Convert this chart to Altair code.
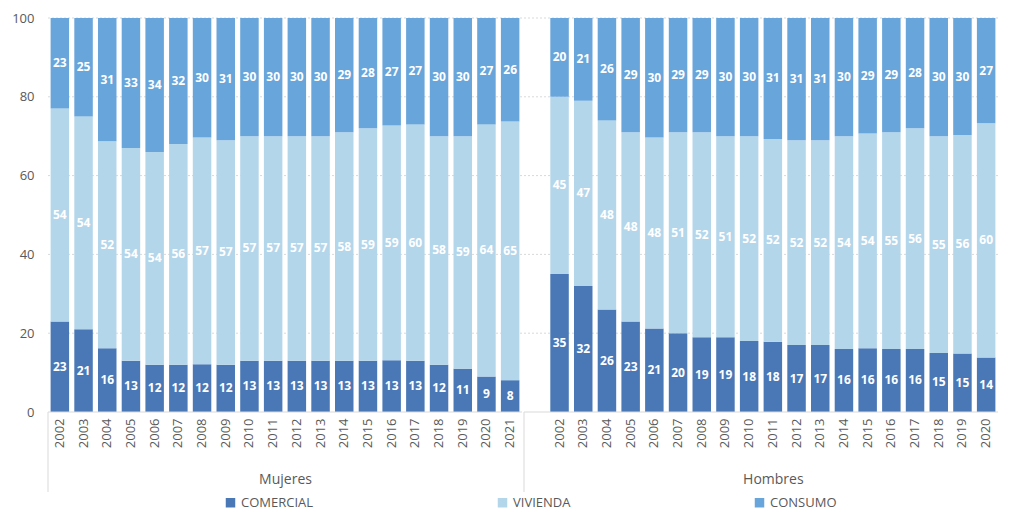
import altair as alt
import pandas as pd

years = [str(y) for y in range(2002, 2022)]
categories = ["COMERCIAL", "VIVIENDA", "CONSUMO"]
groups = ["Mujeres", "Hombres"]
y_ticks = [0, 20, 40, 60, 80, 100]

mujeres_comercial = [23, 21, 16, 13, 12, 12, 12, 12, 13, 13, 13, 13, 13, 13, 13, 13, 12, 11, 9, 8]
mujeres_vivienda = [54, 54, 52, 54, 54, 56, 57, 57, 57, 57, 57, 57, 58, 59, 59, 60, 58, 59, 64, 65]
mujeres_consumo = [23, 25, 31, 33, 34, 32, 30, 31, 30, 30, 30, 30, 29, 28, 27, 27, 30, 30, 27, 26]
hombres_comercial = [35, 32, 26, 23, 21, 20, 19, 19, 18, 18, 17, 17, 16, 16, 16, 16, 15, 15, 14, 13]
hombres_vivienda = [45, 47, 48, 48, 48, 51, 52, 51, 52, 52, 52, 52, 54, 54, 55, 56, 55, 56, 60, 61]
hombres_consumo = [20, 21, 26, 29, 30, 29, 29, 30, 30, 31, 31, 31, 30, 29, 29, 28, 30, 30, 27, 26]

colors = ["#4a78b7", "#b4d6eb", "#68a5da"]
grey = "#595959"
light = "#d9d9d9"
FONT = "Open Sans"

series = {
    "Mujeres": [mujeres_comercial, mujeres_vivienda, mujeres_consumo],
    "Hombres": [hombres_comercial, hombres_vivienda, hombres_consumo],
}
rows = []
for g in groups:
    for ci, cat in enumerate(categories):
        for yi, yr in enumerate(years):
            rows.append({"group": g, "year": yr, "cat": cat, "order": ci,
                         "value": series[g][ci][yi]})
df = pd.DataFrame(rows)

H = 394
STEP = 23.7


def panel(g, domain, first, title_span):
    sub = df[df.group == g]
    width = STEP * len(domain)
    base = (
        alt.Chart(sub)
        .transform_filter(alt.FieldOneOfPredicate(field="year", oneOf=domain))
        .transform_joinaggregate(total="sum(value)", groupby=["year"])
        .transform_calculate(pct="datum.value / datum.total * 100")
        .transform_stack(stack="pct", groupby=["year"], as_=["y0", "y1"],
                         sort=[alt.SortField("order", order="ascending")])
        .transform_calculate(mid="(datum.y0 + datum.y1) / 2")
    )
    xscale = alt.Scale(domain=domain, paddingInner=0.22, paddingOuter=0.11)
    yscale = alt.Scale(domain=[0, 100])
    xaxis = alt.Axis(title=g, titleFontSize=14, titleColor=grey, titleFontWeight="normal",
                     titleFont=FONT, titlePadding=25, titleX=STEP * title_span / 2,
                     labelAngle=-90, labelFontSize=13, labelColor=grey, labelFont=FONT,
                     labelPadding=6, ticks=False, domain=False, grid=False)
    yaxis = alt.Axis(values=y_ticks, title=None, domain=False, ticks=False,
                     labels=first, labelFontSize=13, labelColor=grey, labelFont=FONT,
                     labelPadding=14, grid=False)
    one = pd.DataFrame({"k": [0]})
    grid = alt.Chart(pd.DataFrame({"v": y_ticks[1:]})).mark_rule(
        color=light, strokeDash=[2, 2]
    ).encode(y=alt.Y("v:Q", scale=yscale, axis=yaxis), x=alt.value(0), x2=alt.value(width))
    bars = base.mark_bar().encode(
        x=alt.X("year:N", scale=xscale, axis=xaxis, sort=domain),
        y=alt.Y("y0:Q", scale=yscale, axis=yaxis),
        y2="y1:Q",
        color=alt.Color("cat:N", scale=alt.Scale(domain=categories, range=colors),
                        legend=alt.Legend(orient="none", legendX=176, legendY=478,
                                          direction="horizontal", title=None,
                                          symbolType="square", symbolSize=90,
                                          symbolStrokeWidth=0, labelFontSize=13,
                                          labelColor=grey, labelFont=FONT,
                                          columnPadding=182, labelOffset=4)),
    )
    text = base.mark_text(color="white", fontWeight="bold", fontSize=12, font=FONT).encode(
        x=alt.X("year:N", scale=xscale, axis=xaxis, sort=domain),
        y=alt.Y("mid:Q", scale=yscale, axis=yaxis),
        text=alt.Text("value:Q"),
    )
    sep = alt.Chart(one).mark_rule(color=light).encode(
        x=alt.value(0), y=alt.value(H), y2=alt.value(H + 80)
    )
    baseline = alt.Chart(one).mark_rule(color=light).encode(
        x=alt.value(0), x2=alt.value(width), y=alt.value(H)
    )
    return alt.layer(grid, bars, text, sep, baseline).properties(width=width, height=H)


p1 = panel("Mujeres", years, True, 20)
p2 = panel("Hombres", [" "] + years[:-1], False, 21)

chart = (
    alt.hconcat(p1, p2, spacing=0)
    .resolve_scale(color="shared", x="independent", y="shared")
    .properties(padding={"top": 4, "left": 3, "right": 0, "bottom": 0})
    .configure_view(stroke=None)
)

chart.save("out.html", embed_options={"renderer": "svg", "actions": False})
